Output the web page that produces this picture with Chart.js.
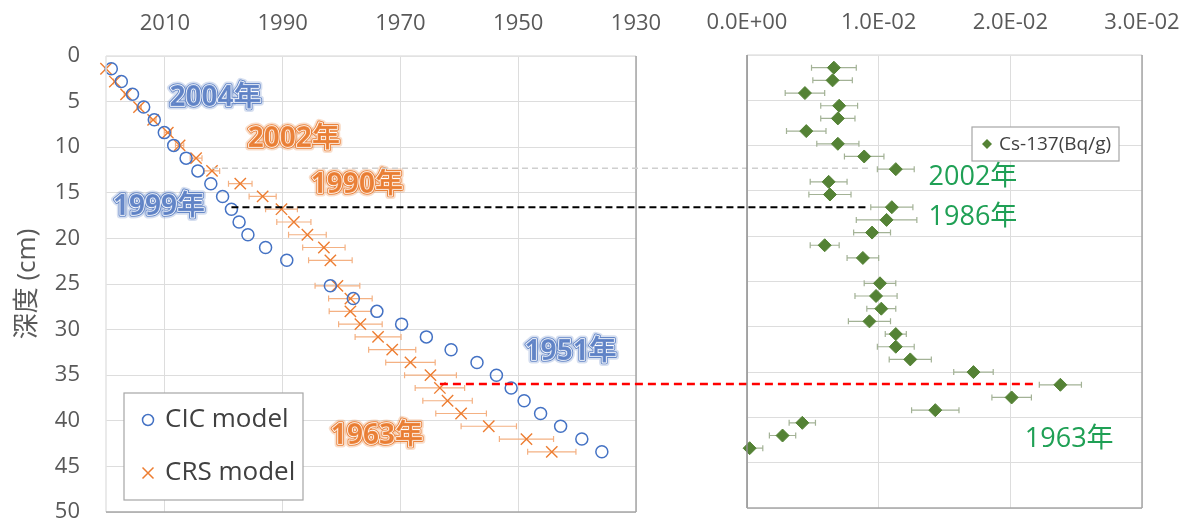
<!DOCTYPE html>
<html><head><meta charset="utf-8">
<script src="https://cdn.jsdelivr.net/npm/chart.js@4.4.0/dist/chart.umd.min.js"></script>
<style>
html,body{margin:0;padding:0;background:#fff;}
#wrap{position:relative;width:1190px;height:523px;}
canvas{position:absolute;left:0;top:0;}
</style></head><body>
<div id="wrap"><canvas id="c1" width="1190" height="523" style="width:1190px;height:523px"></canvas><canvas id="c2" width="1190" height="523" style="width:1190px;height:523px"></canvas></div>
<script>
// ---- data ----
const depths = [1.4, 2.8, 4.2, 5.6, 7.0, 8.4, 9.8, 11.2, 12.6, 14.0, 15.4, 16.8, 18.2, 19.6, 21.0, 22.4, 25.2, 26.6, 28.0, 29.4, 30.8, 32.2, 33.6, 35.0, 36.4, 37.8, 39.2, 40.6, 42.0, 43.4];
const cicYears = [2019.1, 2017.4, 2015.5, 2013.6, 2011.8, 2010.1, 2008.5, 2006.4, 2004.4, 2002.2, 2000.2, 1998.7, 1997.4, 1995.9, 1992.9, 1989.3, 1981.9, 1978.0, 1974.0, 1969.8, 1965.6, 1961.4, 1957.0, 1953.7, 1951.2, 1949.0, 1946.2, 1942.8, 1939.2, 1935.8];
const crsYears = [2020.0, 2018.5, 2016.6, 2014.4, 2012.0, 2009.5, 2007.5, 2004.7, 2002.0, 1997.2, 1993.4, 1990.2, 1988.1, 1985.8, 1983.0, 1981.9, 1980.7, 1978.5, 1978.5, 1976.8, 1973.8, 1971.4, 1968.3, 1964.9, 1963.3, 1962.0, 1959.7, 1955.0, 1948.6, 1944.3];
const crsErr = [0, 0.2, 0.3, 0.4, 0.5, 0.6, 0.7, 1.0, 1.3, 2.0, 2.3, 2.7, 2.9, 3.2, 3.6, 3.7, 3.8, 3.7, 3.6, 3.7, 3.9, 4.0, 4.2, 4.4, 4.2, 4.2, 4.3, 4.7, 4.6, 4.1];
const csValues = [0.0066, 0.0065, 0.0044, 0.0070, 0.0069, 0.0045, 0.0069, 0.0089, 0.0113, 0.0062, 0.0063, 0.0110, 0.0106, 0.0095, 0.0059, 0.0088, 0.0101, 0.0098, 0.0102, 0.0093, 0.0113, 0.0113, 0.0124, 0.0172, 0.0238, 0.0201, 0.0143, 0.0042, 0.0027, 0.0002];
const csErr = [0.0017, 0.0015, 0.0015, 0.0014, 0.0013, 0.0015, 0.0016, 0.0015, 0.0014, 0.0014, 0.0016, 0.0016, 0.0023, 0.0014, 0.0011, 0.0012, 0.0012, 0.0016, 0.0011, 0.0016, 0.0008, 0.0014, 0.0016, 0.0015, 0.0016, 0.0015, 0.0018, 0.0010, 0.0010, 0.0010];
const yearTicks = [2010, 1990, 1970, 1950, 1930];
const depthTicks = [0, 5, 10, 15, 20, 25, 30, 35, 40, 45, 50];
const csTicks = [0, 0.01, 0.02, 0.03];
const seriesNames = ['CIC model', 'CRS model', 'Cs-137(Bq/g)'];
const axisTitle = '深度 (cm)';
const leftLabels = [
  {text: '2004年', year: 2001.4, depth: 4.6, color: '#5B7FC4'},
  {text: '2002年', year: 1988.1, depth: 9.1, color: '#E97A2E'},
  {text: '1990年', year: 1977.4, depth: 14.1, color: '#E97A2E'},
  {text: '1999年', year: 2011.0, depth: 16.6, color: '#5B7FC4'},
  {text: '1951年', year: 1941.1, depth: 32.5, color: '#5B7FC4'},
  {text: '1963年', year: 1974.0, depth: 41.7, color: '#E97A2E'}
];
const rightLabels = [
  {text: '2002年', cs: 0.01716, depth: 13.5},
  {text: '1986年', cs: 0.01716, depth: 17.95},
  {text: '1963年', cs: 0.02447, depth: 42.4}
];
const refLines = [
  {depth: 12.5, fromYear: 2002.0, toCs: 0.0092, color: '#CFCFCF', width: 1.6, dash: [6, 4]},
  {depth: 16.8, fromYear: 1998.7, toCs: 0.0092, color: '#000000', width: 2, dash: [7, 4]},
  {depth: 36.3, fromYear: 1963.3, toCs: 0.0220, color: '#FF0000', width: 2.5, dash: [8, 5]}
];

Chart.defaults.font.family = "'Open Sans','Noto Sans CJK JP',sans-serif";
Chart.defaults.color = '#595959';

const BLUE = '#4472C4', ORANGE = '#ED7D31', GREEN = '#548235';

function drawErrorBars(chart, dsIndex, errs, color) {
  const ds = chart.data.datasets[dsIndex];
  const xs = chart.scales.x, ys = chart.scales.y;
  const ctx = chart.ctx, a = chart.chartArea;
  ctx.save();
  ctx.beginPath(); ctx.rect(a.left, a.top - 10, a.right - a.left, a.bottom - a.top + 20); ctx.clip();
  ctx.strokeStyle = color; ctx.lineWidth = 1.2;
  ds.data.forEach((p, i) => {
    const e = errs[i]; if (!e) return;
    const y = ys.getPixelForValue(p.y);
    const x0 = xs.getPixelForValue(p.x - e), x1 = xs.getPixelForValue(p.x + e);
    ctx.beginPath();
    ctx.moveTo(x0, y); ctx.lineTo(x1, y);
    ctx.moveTo(x0, y - 3); ctx.lineTo(x0, y + 3);
    ctx.moveTo(x1, y - 3); ctx.lineTo(x1, y + 3);
    ctx.stroke();
  });
  ctx.restore();
}
function drawBorders(chart, cols) {
  const ctx = chart.ctx, a = chart.chartArea;
  ctx.save(); ctx.lineWidth = 1.5;
  const seg = (c, x0, y0, x1, y1) => { if (!c) return; ctx.strokeStyle = c; ctx.beginPath(); ctx.moveTo(x0, y0); ctx.lineTo(x1, y1); ctx.stroke(); };
  seg(cols.top, a.left, a.top, a.right, a.top);
  seg(cols.left, a.left, a.top, a.left, a.bottom);
  seg(cols.right, a.right, a.top, a.right, a.bottom);
  seg(cols.bottom, a.left, a.bottom, a.right, a.bottom);
  ctx.restore();
}
function outlinedText(ctx, text, x, y, color) {
  ctx.save();
  ctx.font = "bold 28px 'Open Sans','Noto Sans CJK JP',sans-serif";
  ctx.textAlign = 'center'; ctx.textBaseline = 'middle'; ctx.lineJoin = 'round';
  ctx.strokeStyle = color; ctx.globalAlpha = 0.25; ctx.lineWidth = 7; ctx.strokeText(text, x, y);
  ctx.globalAlpha = 0.9; ctx.lineWidth = 3.5; ctx.strokeText(text, x, y);
  ctx.globalAlpha = 1; ctx.strokeStyle = '#ffffff'; ctx.lineWidth = 1.6; ctx.strokeText(text, x, y);
  ctx.fillStyle = color; ctx.globalAlpha = 0.85; ctx.fillText(text, x, y);
  ctx.restore();
}
function diamond(ctx, x, y, r, c) {
  ctx.fillStyle = c; ctx.beginPath();
  ctx.moveTo(x, y - r); ctx.lineTo(x + r, y); ctx.lineTo(x, y + r); ctx.lineTo(x - r, y); ctx.closePath(); ctx.fill();
}
function fixX(h) { return s => { s.height = h; s.paddingLeft = 0; s.paddingRight = 0; s.paddingTop = 0; s.paddingBottom = 0; }; }
function fixY(w) { return s => { s.width = w; s.paddingLeft = 0; s.paddingRight = 0; s.paddingTop = 0; s.paddingBottom = 0; }; }

const leftPlugin = {
  id: 'leftExtras',
  beforeDatasetsDraw(chart) { drawErrorBars(chart, 1, crsErr, '#F4B183'); },
  afterDatasetsDraw(chart) {
    const ctx = chart.ctx;
    leftLabels.forEach(l => outlinedText(ctx, l.text, chart.scales.x.getPixelForValue(l.year), chart.scales.y.getPixelForValue(l.depth), l.color));
  },
  afterDraw(chart) {
    drawBorders(chart, {top: '#E3E3E3', left: '#E3E3E3', right: '#A6A6A6', bottom: '#A6A6A6'});
    const ctx = chart.ctx, a = chart.chartArea;
    const bx = a.left + 18, by = a.bottom - 119, bw = 179, bh = 107;
    ctx.save();
    ctx.fillStyle = '#fff'; ctx.fillRect(bx, by, bw, bh);
    ctx.strokeStyle = '#A6A6A6'; ctx.lineWidth = 1.2; ctx.strokeRect(bx, by, bw, bh);
    ctx.strokeStyle = BLUE; ctx.lineWidth = 1.5;
    ctx.beginPath(); ctx.arc(bx + 24, by + 27, 5.5, 0, Math.PI * 2); ctx.stroke();
    ctx.strokeStyle = ORANGE;
    const cx = bx + 24, cy = by + 80, s = 5.5;
    ctx.beginPath(); ctx.moveTo(cx - s, cy - s); ctx.lineTo(cx + s, cy + s); ctx.moveTo(cx + s, cy - s); ctx.lineTo(cx - s, cy + s); ctx.stroke();
    ctx.fillStyle = '#404040'; ctx.font = "26px 'Open Sans','Noto Sans CJK JP',sans-serif";
    ctx.textBaseline = 'middle'; ctx.textAlign = 'left';
    ctx.fillText(seriesNames[0], bx + 41, by + 27);
    ctx.fillText(seriesNames[1], bx + 41, by + 80);
    ctx.restore();
  }
};

const leftChart = new Chart(document.getElementById('c1'), {
  type: 'scatter',
  data: {
    datasets: [
      {label: seriesNames[0], data: depths.map((d, i) => ({x: cicYears[i], y: d})), pointStyle: 'circle', pointRadius: 6, pointBorderWidth: 1.5, borderColor: BLUE, backgroundColor: 'rgba(255,255,255,0)', clip: false},
      {label: seriesNames[1], data: depths.map((d, i) => ({x: crsYears[i], y: d})), pointStyle: 'crossRot', pointRadius: 8, pointBorderWidth: 1.4, borderColor: ORANGE, backgroundColor: ORANGE, clip: false}
    ]
  },
  options: {
    responsive: false, animation: false, devicePixelRatio: 1,
    layout: {padding: {left: 0, top: 0, right: 554, bottom: 11}},
    plugins: {legend: {display: false}, tooltip: {enabled: false}},
    scales: {
      x: {type: 'linear', position: 'top', reverse: true, min: 1930, max: 2020,
        afterBuildTicks: s => { s.ticks = yearTicks.map(v => ({value: v})); },
        grid: {color: '#DDDDDD', drawTicks: false}, border: {display: false},
        ticks: {font: {size: 22}, color: '#595959', padding: 19, maxRotation: 0, autoSkip: false, callback: v => String(v)},
        afterFit: fixX(56)
      },
      y: {type: 'linear', reverse: true, min: 0, max: 50,
        afterBuildTicks: s => { s.ticks = depthTicks.map(v => ({value: v})); },
        grid: {color: '#DDDDDD', drawTicks: false}, border: {display: false},
        ticks: {font: {size: 22}, color: '#595959', padding: 26, autoSkip: false, callback: v => String(v)},
        title: {display: true, text: axisTitle, font: {size: 26}, color: '#595959', padding: {top: 12, bottom: 0}},
        afterFit: fixY(106)
      }
    }
  },
  plugins: [leftPlugin]
});

function sci(v) {
  if (v === 0) return '0.0E+00';
  const e = Math.floor(Math.log10(Math.abs(v)) + 1e-9);
  const m = v / Math.pow(10, e);
  return m.toFixed(1) + 'E' + (e < 0 ? '-' : '+') + String(Math.abs(e)).padStart(2, '0');
}

const rightPlugin = {
  id: 'rightExtras',
  beforeDatasetsDraw(chart) {
    const ctx = chart.ctx;
    ctx.save();
    refLines.forEach(l => {
      const y = chart.scales.y.getPixelForValue(l.depth);
      const x0 = leftChart.scales.x.getPixelForValue(l.fromYear);
      const x1 = chart.scales.x.getPixelForValue(l.toCs);
      ctx.strokeStyle = l.color; ctx.lineWidth = l.width; ctx.setLineDash(l.dash);
      ctx.beginPath(); ctx.moveTo(x0, y); ctx.lineTo(x1, y); ctx.stroke();
    });
    ctx.setLineDash([]);
    ctx.restore();
    drawErrorBars(chart, 0, csErr, '#A3B296');
  },
  afterDatasetsDraw(chart) {
    const ctx = chart.ctx;
    ctx.save();
    ctx.font = "27px 'Open Sans','Noto Sans CJK JP',sans-serif";
    ctx.fillStyle = '#1FA055'; ctx.textAlign = 'center'; ctx.textBaseline = 'middle';
    rightLabels.forEach(l => ctx.fillText(l.text, chart.scales.x.getPixelForValue(l.cs), chart.scales.y.getPixelForValue(l.depth)));
    ctx.restore();
  },
  afterDraw(chart) {
    drawBorders(chart, {top: '#E3E3E3', left: '#8C8C8C', right: '#A6A6A6', bottom: '#A6A6A6'});
    const ctx = chart.ctx, a = chart.chartArea;
    const bx = a.left + 225, by = a.top + 72, bw = 147, bh = 34;
    ctx.save();
    ctx.fillStyle = '#fff'; ctx.fillRect(bx, by, bw, bh);
    ctx.strokeStyle = '#A6A6A6'; ctx.lineWidth = 1.2; ctx.strokeRect(bx, by, bw, bh);
    diamond(ctx, bx + 15, by + 17, 5, GREEN);
    ctx.fillStyle = '#404040'; ctx.font = "19px 'Open Sans','Noto Sans CJK JP',sans-serif";
    ctx.textBaseline = 'middle'; ctx.textAlign = 'left';
    ctx.fillText(seriesNames[2], bx + 27, by + 18);
    ctx.restore();
  }
};

const rightChart = new Chart(document.getElementById('c2'), {
  type: 'scatter',
  data: {
    datasets: [
      {label: seriesNames[2], data: depths.map((d, i) => ({x: csValues[i], y: d})), pointStyle: 'rectRot', pointRadius: 6.5, pointBorderWidth: 1, borderColor: GREEN, backgroundColor: GREEN, clip: false}
    ]
  },
  options: {
    responsive: false, animation: false, devicePixelRatio: 1,
    layout: {padding: {left: 747, top: 0, right: 48, bottom: 15}},
    plugins: {legend: {display: false}, tooltip: {enabled: false}},
    scales: {
      x: {type: 'linear', position: 'top', min: 0, max: 0.03,
        afterBuildTicks: s => { s.ticks = csTicks.map(v => ({value: v})); },
        grid: {color: '#DDDDDD', drawTicks: false}, border: {display: false},
        ticks: {font: {size: 22}, color: '#595959', padding: 19, maxRotation: 0, autoSkip: false, callback: v => sci(v)},
        afterFit: fixX(55)
      },
      y: {type: 'linear', reverse: true, min: 0, max: 50,
        afterBuildTicks: s => { s.ticks = depthTicks.map(v => ({value: v})); },
        grid: {color: '#DDDDDD', drawTicks: false}, border: {display: false},
        ticks: {display: false},
        afterFit: fixY(0)
      }
    }
  },
  plugins: [rightPlugin]
});
</script>
</body></html>
